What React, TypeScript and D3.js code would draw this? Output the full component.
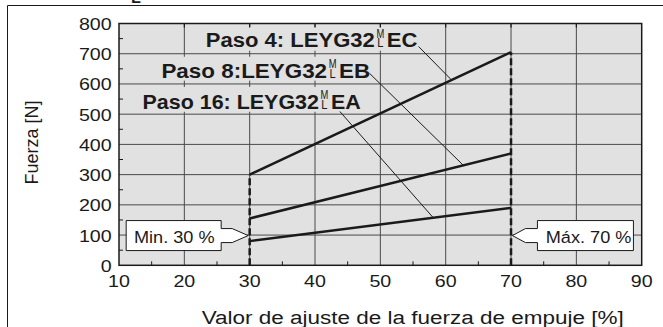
import React from "react";
import * as d3 from "d3";

// chart values
const settingPct = [30, 70];
const paso4Force = [300, 705];
const paso8Force = [155, 370];
const paso16Force = [80, 190];
const seriesNames = ["Paso 4:", "Paso 8:", "Paso 16:"];
const modelBase = ["LEYG32", "LEYG32", "LEYG32"];
const modelSuffix = ["EC", "EB", "EA"];
const xTicks = [10, 20, 30, 40, 50, 60, 70, 80, 90];
const yTicks = [0, 100, 200, 300, 400, 500, 600, 700, 800];
const limitPct = [30, 70];
const limitLabels = ["Min. 30 %", "Máx. 70 %"];
const limitMarkForce = 100;

const W = 663;
const H = 327;
const FONT = "'Liberation Sans', Arial, Helvetica, sans-serif";
const plotBg = "#e1e1e1";
const ink = "#1a1a1a";

const x = d3.scaleLinear().domain([10, 90]).range([119, 641.7]);
const y = d3.scaleLinear().domain([0, 800]).range([265.3, 23.5]);

// text with optional horizontal stretch (the source artwork is slightly wide)
const T = ({ px, py, sx = 1, size, weight = "normal", anchor = "start", rotate = 0, children }: any) => (
  <text
    transform={`translate(${px},${py}) rotate(${rotate}) scale(${sx},1)`}
    fontSize={size}
    fontWeight={weight}
    textAnchor={anchor}
    fontFamily={FONT}
    fill={ink}
  >
    {children}
  </text>
);

// label layout, in data units (pct, force)
const labelLayout = [
  { stack: 49.3, base: 722, sx: 1.13, band: [23.0, 56.2, 788, 710], lead: [55.85, 724, 60.9] },
  { stack: 42.0, base: 620, sx: 1.15, band: [16.3, 48.7, 690, 611], lead: [48.35, 635, 62.7] },
  { stack: 40.75, base: 518, sx: 1.1, band: [13.2, 47.8, 590, 508], lead: [43.8, 509, 58.1] },
];

export default function App() {
  const series = [paso4Force, paso8Force, paso16Force];
  const line = d3
    .line<number>()
    .x((_, i) => x(settingPct[i]))
    .y((d) => y(d));

  const minors = d3.range(15, 90, 10);
  const yMinors = d3.range(50, 800, 100);

  return (
    <svg width={W} height={H} style={{ position: "absolute", left: 0, top: 0, background: "#fff" }}>
      {/* outer frame */}
      <line x1={7.5} x2={W} y1={5.5} y2={5.5} stroke={ink} strokeWidth={1} />
      <line x1={7.5} x2={7.5} y1={5.5} y2={H} stroke={ink} strokeWidth={1} />
      <T px={131} py={3} size={14} weight="bold" sx={1.15}>L</T>

      {/* plot background */}
      <rect x={x(10)} y={y(800)} width={x(90) - x(10)} height={y(0) - y(800)} fill={plotBg} />

      {/* grid */}
      {xTicks.slice(1, -1).map((t) => (
        <line key={"gx" + t} x1={x(t)} x2={x(t)} y1={y(0)} y2={y(800)} stroke="#4a4a4a" strokeWidth={1} />
      ))}
      {yTicks.slice(1, -1).map((t) => (
        <line key={"gy" + t} x1={x(10)} x2={x(90)} y1={y(t)} y2={y(t)} stroke="#4a4a4a" strokeWidth={1} />
      ))}

      {/* label bands hide the grid behind the labels */}
      {labelLayout.map((l, i) => (
        <rect
          key={"band" + i}
          x={x(l.band[0])}
          y={y(l.band[2])}
          width={x(l.band[1]) - x(l.band[0])}
          height={y(l.band[3]) - y(l.band[2])}
          fill={plotBg}
        />
      ))}

      {/* ticks */}
      {minors.map((t) => (
        <line key={"mx" + t} x1={x(t)} x2={x(t)} y1={y(0)} y2={y(0) - 4} stroke={ink} strokeWidth={1} />
      ))}
      {xTicks.slice(1, -1).map((t) => (
        <line key={"tx" + t} x1={x(t)} x2={x(t)} y1={y(800)} y2={y(800) + 4} stroke={ink} strokeWidth={1.2} />
      ))}
      {yMinors.map((t) => (
        <line key={"my" + t} x1={x(10)} x2={x(10) + 4} y1={y(t)} y2={y(t)} stroke={ink} strokeWidth={1} />
      ))}

      {/* plot frame */}
      <rect
        x={x(10)}
        y={y(800)}
        width={x(90) - x(10)}
        height={y(0) - y(800)}
        fill="none"
        stroke={ink}
        strokeWidth={1.5}
      />

      {/* force lines */}
      {series.map((s, i) => (
        <path key={"s" + i} d={line(s) || ""} fill="none" stroke={ink} strokeWidth={2.5} />
      ))}

      {/* dashed limits */}
      {limitPct.map((p, i) => (
        <line
          key={"lim" + i}
          x1={x(p)}
          x2={x(p)}
          y1={y(0)}
          y2={y(d3.max(series, (s) => s[i]) as number)}
          stroke={ink}
          strokeWidth={2.5}
          strokeDasharray="7,3"
        />
      ))}

      {/* leader lines */}
      {labelLayout.map((l, i) => {
        const onLine = d3.scaleLinear().domain(settingPct).range(series[i]);
        return (
          <line
            key={"lead" + i}
            x1={x(l.lead[0])}
            y1={y(l.lead[1])}
            x2={x(l.lead[2])}
            y2={y(onLine(l.lead[2]))}
            stroke={ink}
            strokeWidth={1}
          />
        );
      })}

      {/* labels */}
      {labelLayout.map((l, i) => {
        const sx = x(l.stack);
        const by = y(l.base);
        return (
          <g key={"lab" + i}>
            <T px={sx - 1} py={by} size={19.5} weight="bold" sx={l.sx} anchor="end">
              {seriesNames[i] + (i === 1 ? "" : " ") + modelBase[i]}
            </T>
            <T px={sx + 4.5} py={by - 9.5} size={13} sx={0.72} anchor="middle">M</T>
            <T px={sx + 4.5} py={by} size={13} sx={0.85} anchor="middle">L</T>
            <T px={sx + 11} py={by} size={19.5} weight="bold" sx={l.sx}>{modelSuffix[i]}</T>
          </g>
        );
      })}

      {/* callouts */}
      {limitPct.map((p, i) => {
        const dir = i === 0 ? -1 : 1; // box to the left or right of the tip
        const tipX = x(p) + (i === 0 ? -1.5 : 1.4);
        const tipY = y(limitMarkForce) + 0.5;
        const edge = tipX + dir * (i === 0 ? 27 : 25);
        const neck = tipX + dir * (i === 0 ? 16 : 13);
        const far = edge + dir * (i === 0 ? 95 : 96);
        const pts = [
          [tipX, tipY],
          [neck, tipY - 7],
          [edge, tipY - 7],
          [edge, tipY - 15],
          [far, tipY - 15],
          [far, tipY + 15],
          [edge, tipY + 15],
          [edge, tipY + 7],
          [neck, tipY + 7],
        ];
        const left = Math.min(edge, far);
        return (
          <g key={"call" + i}>
            <polygon points={pts.map((q) => q.join(",")).join(" ")} fill="#fff" stroke={ink} strokeWidth={1} />
            <T px={left + (i === 0 ? 7.8 : 8.3)} py={tipY + 7} size={16.5} sx={1.1}>
              {limitLabels[i]}
            </T>
          </g>
        );
      })}

      {/* tick labels */}
      {yTicks.map((t) => (
        <T key={"yl" + t} px={111.7} py={y(t) + 6.5} size={16.5} sx={1.19} anchor="end">
          {t}
        </T>
      ))}
      {xTicks.map((t) => (
        <T key={"xl" + t} px={x(t)} py={287.3} size={16.5} sx={1.19} anchor="middle">
          {t}
        </T>
      ))}

      {/* axis titles */}
      <T px={38} py={142.5} size={18} rotate={-90} anchor="middle">Fuerza [N]</T>
      <T px={201.7} py={323.5} size={18} sx={1.25}>Valor de ajuste de la fuerza de empuje [%]</T>
    </svg>
  );
}
